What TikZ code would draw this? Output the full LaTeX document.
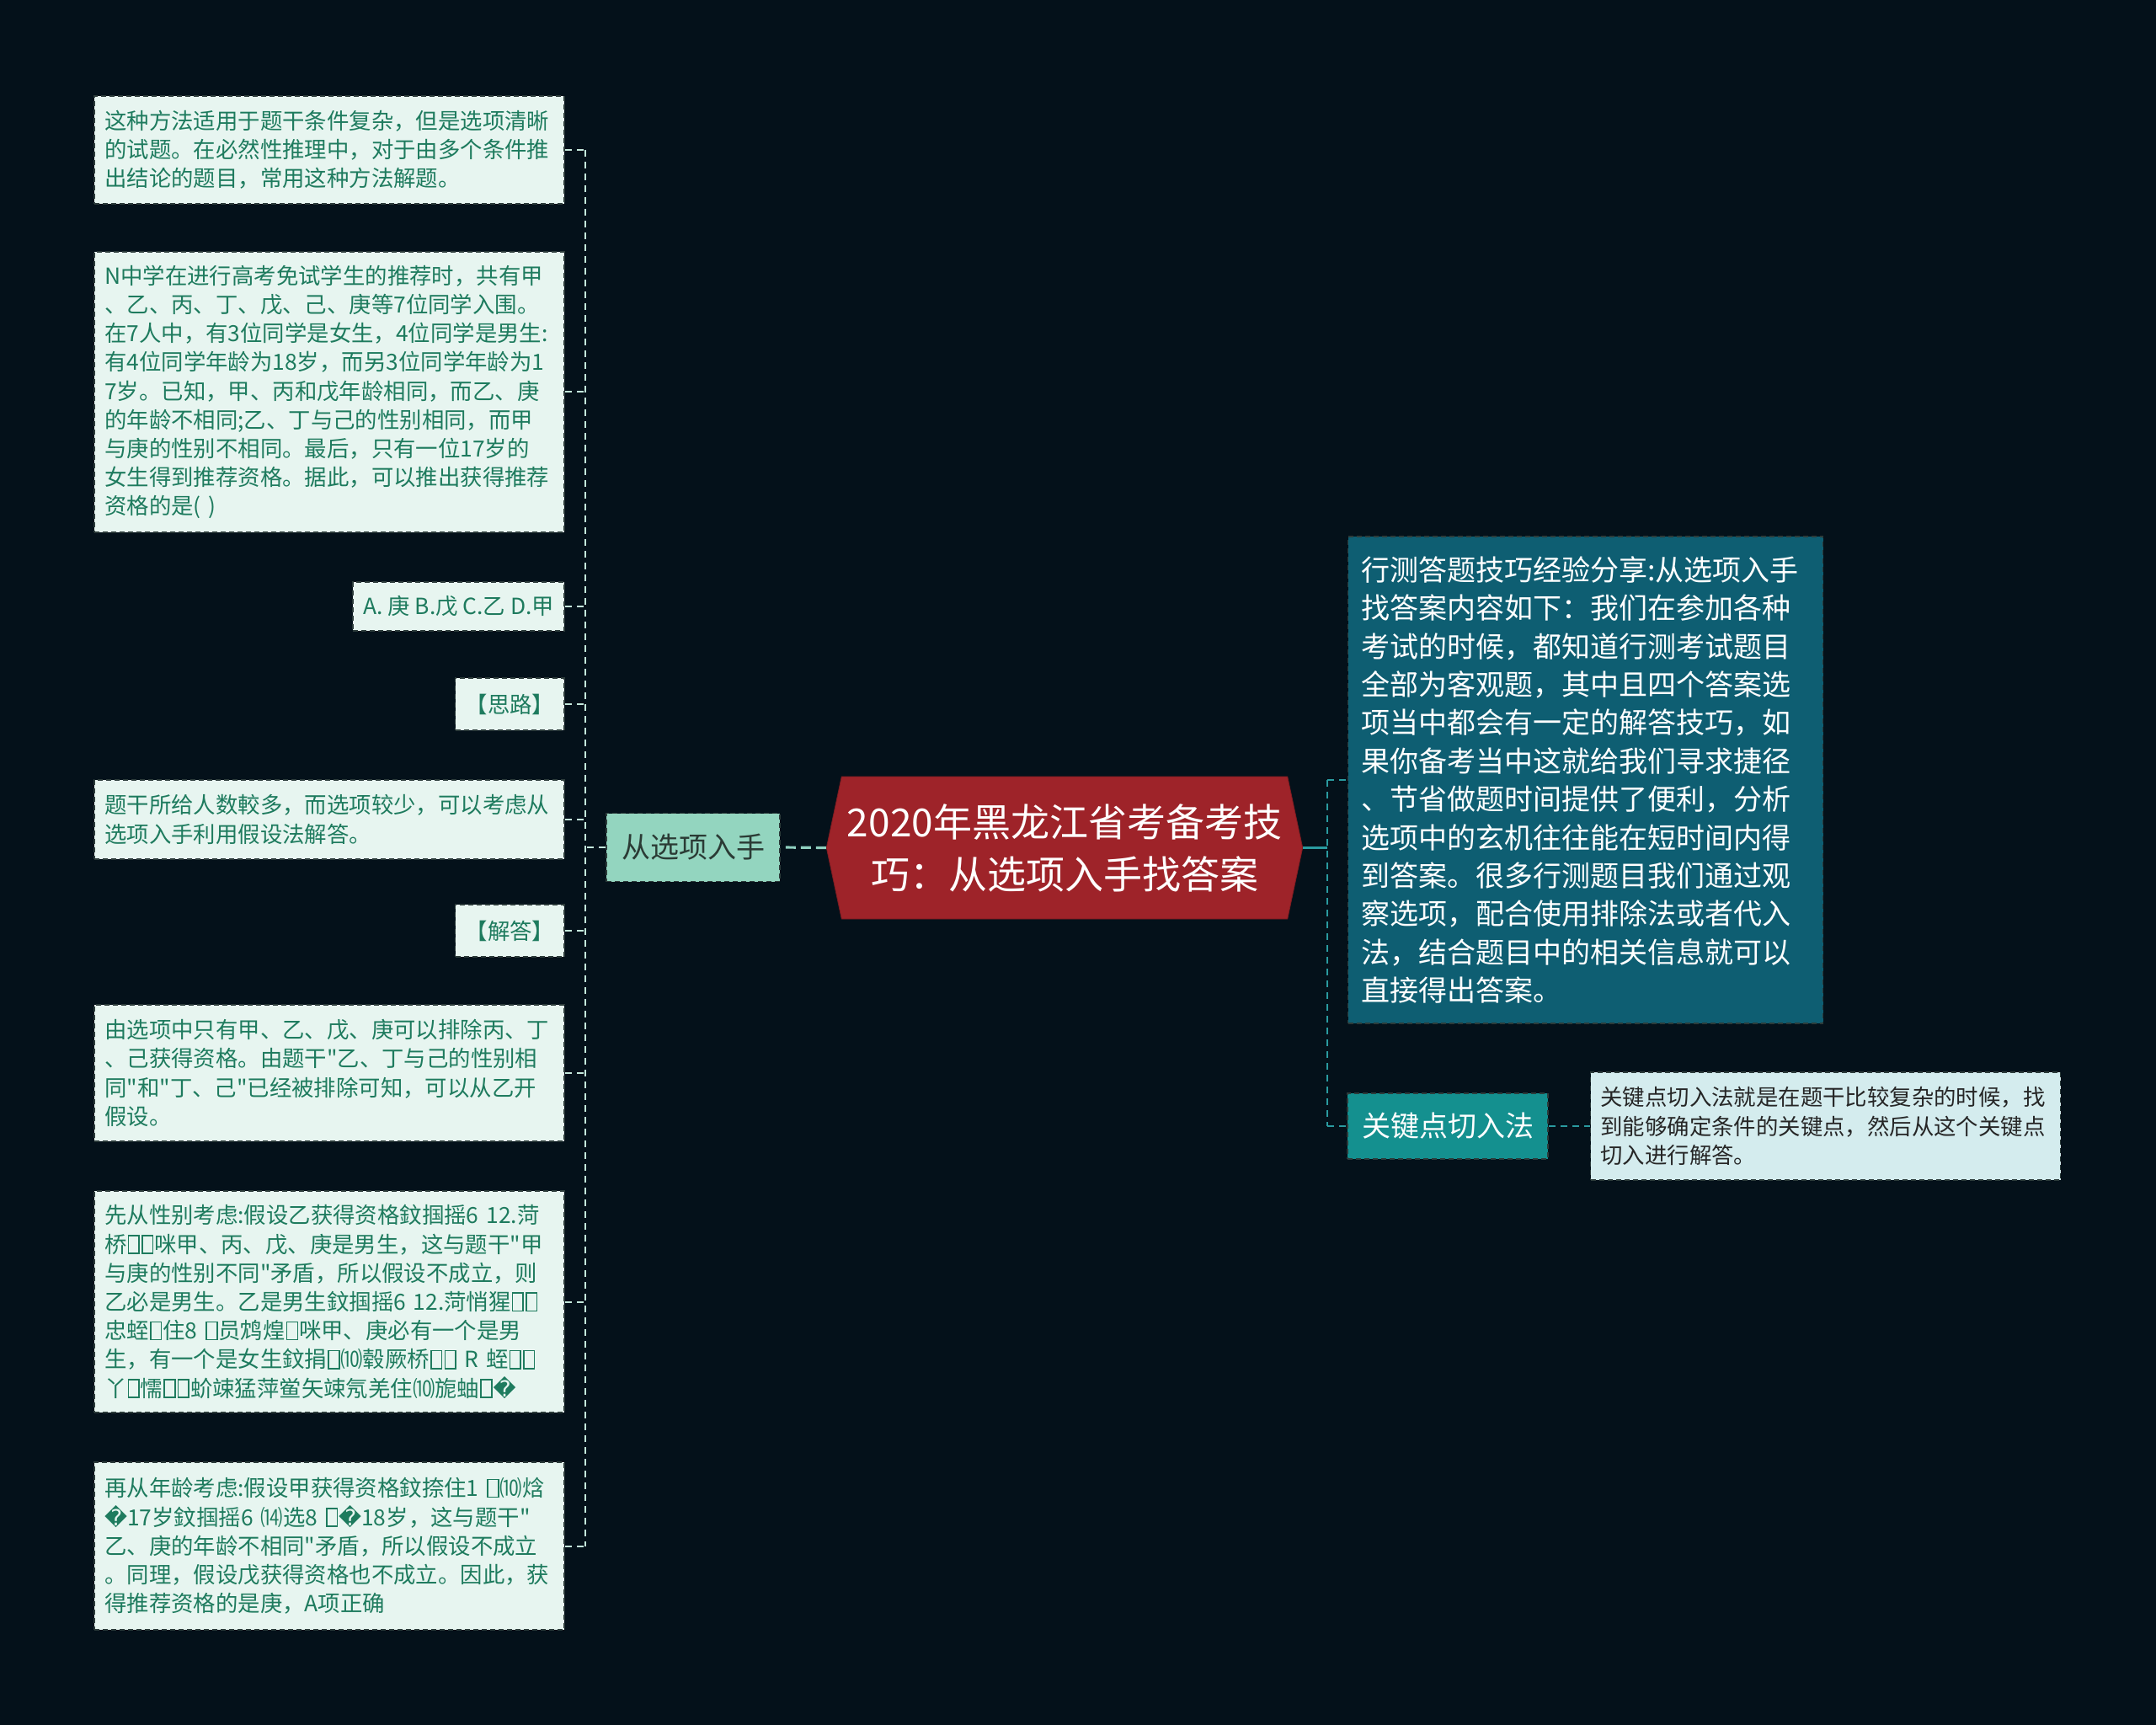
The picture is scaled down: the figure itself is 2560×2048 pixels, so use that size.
\documentclass[tikz,border=0pt]{standalone}
\usepackage{fontspec}
\setmainfont{Noto Sans CJK SC}[Ligatures=TeXOff]
\newfontfamily\symfont{DejaVu Sans}
\definecolor{mmBack}{HTML}{04111A}
\definecolor{mmLeaf}{HTML}{E7F5F0}
\definecolor{mmLeafText}{HTML}{1E7B5E}
\definecolor{mmLeafEdge}{HTML}{2C3B3A}
\definecolor{mmPick}{HTML}{93D5BF}
\definecolor{mmPickText}{HTML}{2B3B35}
\definecolor{mmRoot}{HTML}{9E2329}
\definecolor{mmShare}{HTML}{0E5E72}
\definecolor{mmKey}{HTML}{14908F}
\definecolor{mmKeyLeaf}{HTML}{D4ECEE}
\definecolor{mmLeftLink}{HTML}{C4E9DC}
\definecolor{mmRightLink}{HTML}{2A9BA0}
\definecolor{mmMainLink}{HTML}{8FD0BF}
\usetikzlibrary{calc,shapes.symbols}
\newcommand{\bad}{{\symfont\char"FFFD}}
% narrow missing-glyph box
\newcommand{\tofu}{\kern0.04em{\setlength{\fboxsep}{0pt}\setlength{\fboxrule}{0.06em}\fbox{\rule{0pt}{0.74em}\rule{0.42em}{0pt}}}\kern0.04em}

\begin{document}
\begin{tikzpicture}[x=0.5pt, y=-0.5pt,
  leaf/.style={fill=mmLeaf, draw=mmLeafEdge, line width=0.8pt, dash pattern=on 3pt off 2pt,
    text=mmLeafText, inner xsep=6pt, inner ysep=5pt, anchor=east,
    font=\fontsize{13.2pt}{17.1pt}\selectfont},
  wide/.style={text width=267pt, align=left},
  pick/.style={fill=mmPick, draw=mmLeafEdge, line width=0.8pt, dash pattern=on 3pt off 2pt,
    text=mmPickText, minimum width=103pt, minimum height=40.5pt,
    font=\fontsize{17pt}{20pt}\selectfont},
  root/.style={signal, signal to=west and east, signal pointer angle=156,
    fill=mmRoot, draw=mmRoot!80!black, text=white, align=center,
    minimum width=271pt, minimum height=84.5pt,
    font=\fontsize{23pt}{31pt}\selectfont},
  share/.style={fill=mmShare, draw=mmLeafEdge, line width=0.8pt, dash pattern=on 3pt off 2pt,
    text=white, text width=266pt, align=left, inner xsep=8pt, minimum height=289pt,
    font=\fontsize{17pt}{22.7pt}\selectfont},
  keypoint/.style={fill=mmKey, draw=mmLeafEdge, line width=0.8pt, dash pattern=on 3pt off 2pt,
    text=white, minimum width=119pt, minimum height=39pt,
    font=\fontsize{17pt}{20pt}\selectfont},
  keytext/.style={fill=mmKeyLeaf, draw=mmLeafEdge, line width=0.8pt, dash pattern=on 3pt off 2pt,
    text=black!85, text width=267pt, align=left, inner xsep=6pt, minimum height=64pt,
    font=\fontsize{13.2pt}{17.1pt}\selectfont},
  leftlink/.style={draw=mmLeftLink, line width=1pt, dash pattern=on 4pt off 3pt},
  rightlink/.style={draw=mmRightLink, line width=1.3pt, dash pattern=on 4pt off 3pt},
  mainlink/.style={draw=mmMainLink, line width=1.6pt, dash pattern=on 6pt off 3pt}
]
  \useasboundingbox[fill=mmBack] (0,0) rectangle (2560,2048);

  % centre and first level
  \node[root] (root) at (1264,1006.5) {2020年黑龙江省考备考技\\巧：从选项入手找答案};
  \node[pick] (option) at (823,1006) {从选项入手};
  \node[share] (share) at (1882.5,926) {行测答题技巧经验分享:从选项入手\\找答案内容如下：我们在参加各种\\考试的时候，都知道行测考试题目\\全部为客观题，其中且四个答案选\\项当中都会有一定的解答技巧，如\\果你备考当中这就给我们寻求捷径\\、节省做题时间提供了便利，分析\\选项中的玄机往往能在短时间内得\\到答案。很多行测题目我们通过观\\察选项，配合使用排除法或者代入\\法，结合题目中的相关信息就可以\\直接得出答案。};
  \node[keypoint] (keypoint) at (1719,1337) {关键点切入法};
  \node[keytext] (keytext) at (2167.5,1337) {关键点切入法就是在题干比较复杂的时候，找\\到能够确定条件的关键点，然后从这个关键点\\切入进行解答。};

  % left leaves
  \node[leaf, wide, minimum height=64pt] (usage) at (671,178) {这种方法适用于题干条件复杂，但是选项清晰\\的试题。在必然性推理中，对于由多个条件推\\出结论的题目，常用这种方法解题。};
  \node[leaf, wide, minimum height=166.5pt] (question) at (671,465.5) {N中学在进行高考免试学生的推荐时，共有甲\\、乙、丙、丁、戊、己、庚等7位同学入围。\\在7人中，有3位同学是女生，4位同学是男生:\\有4位同学年龄为18岁，而另3位同学年龄为1\\7岁。已知，甲、丙和戊年龄相同，而乙、庚\\的年龄不相同;乙、丁与己的性别相同，而甲\\与庚的性别不相同。最后，只有一位17岁的\\女生得到推荐资格。据此，可以推出获得推荐\\资格的是( )};
  \node[leaf, minimum height=29pt] (choices) at (671,720) {A. 庚 B.戊 C.乙 D.甲};
  \node[leaf, minimum height=31pt] (idea) at (671,836) {【思路】};
  \node[leaf, wide, minimum height=47pt] (hint) at (671,973) {题干所给人数較多，而选项较少，可以考虑从\\选项入手利用假设法解答。};
  \node[leaf, minimum height=31pt] (answer) at (671,1105) {【解答】};
  \node[leaf, wide, minimum height=81pt] (exclude) at (671,1274) {由选项中只有甲、乙、戊、庚可以排除丙、丁\\、己获得资格。由题干"乙、丁与己的性别相\\同"和"丁、己"已经被排除可知，可以从乙开\\假设。};
  \node[leaf, wide, minimum height=131.5pt] (gender) at (671,1545.5) {先从性别考虑:假设乙获得资格鈫掴摇6~12.菏\\桥\tofu\tofu 咪甲、丙、戊、庚是男生，这与题干"甲\\与庚的性别不同"矛盾，所以假设不成立，则\\乙必是男生。乙是男生鈫掴摇6~12.菏悄猩\tofu\tofu\\忠蛭\tofu 住8~\tofu 员鸩煌\tofu 咪甲、庚必有一个是男\\生，有一个是女生鈫捐\tofu⑽毂厥桥\tofu\tofu~R~蛭\tofu\tofu\\丫\tofu 懦\tofu\tofu 蚧竦猛萍鲎矢竦氖羌住⑽旎蚰\tofu\bad};
  \node[leaf, wide, minimum height=99.5pt] (age) at (671,1835.5) {再从年龄考虑:假设甲获得资格鈫捺住1~\tofu⑽焓\\\bad 17岁鈫掴摇6~⒁选8~\tofu\bad 18岁，这与题干"\\乙、庚的年龄不相同"矛盾，所以假设不成立\\。同理，假设戊获得资格也不成立。因此，获\\得推荐资格的是庚，A项正确};

  % connectors
  \coordinate (lspine) at (695,0);
  \coordinate (rspine) at (1576,0);
  \draw[mainlink] (root.west) -- (option.east);
  \draw[leftlink] (option.west) -- (lspine |- option.west);
  \draw[leftlink] (lspine |- usage.east) -- (lspine |- age.east);
  \foreach \n in {usage,question,choices,idea,hint,answer,exclude,gender,age}
    \draw[leftlink] (\n.east) -- (lspine |- \n.east);
  \draw[draw=mmRightLink, line width=1.6pt] (root.east) -- (rspine |- root.east);
  \draw[rightlink] (rspine |- share.west) -- (rspine |- keypoint.west);
  \draw[rightlink] (rspine |- share.west) -- (share.west);
  \draw[rightlink] (rspine |- keypoint.west) -- (keypoint.west);
  \draw[rightlink] (keypoint.east) -- (keytext.west);
\end{tikzpicture}
\end{document}
